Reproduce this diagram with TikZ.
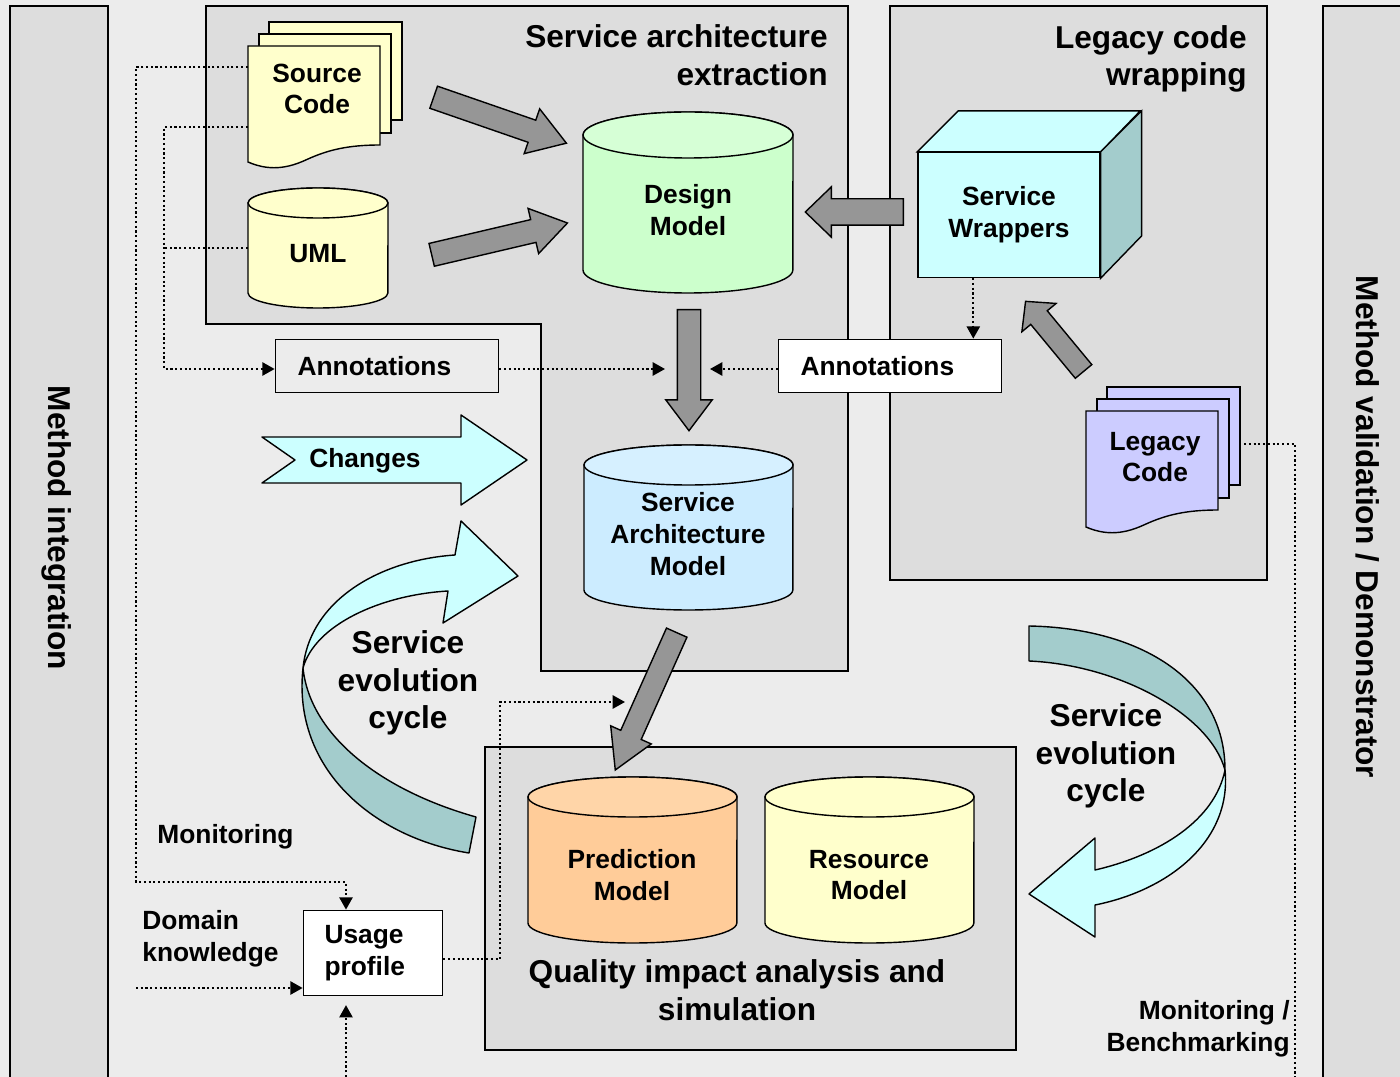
\documentclass[tikz,border=0pt]{standalone}
\usepackage{fontspec}
\setmainfont{Liberation Sans}
\usetikzlibrary{arrows.meta}
\usetikzlibrary{calc}
\usetikzlibrary{positioning}
\usetikzlibrary{shapes.arrows}

\definecolor{bgcol}{HTML}{ECECEC}
\definecolor{panelgray}{HTML}{DDDDDD}
\definecolor{arrowgray}{HTML}{969696}
\definecolor{docyellow}{HTML}{FFFFCC}
\definecolor{docpurple}{HTML}{CCCCFF}
\definecolor{cyanlight}{HTML}{CCFFFF}
\definecolor{tealdark}{HTML}{A3CCCC}
\definecolor{dmbody}{HTML}{CCFFCC}
\definecolor{dmtop}{HTML}{D6FFD6}
\definecolor{sambody}{HTML}{CCECFF}
\definecolor{samtop}{HTML}{D6F0FF}
\definecolor{pmbody}{HTML}{FFCC99}
\definecolor{pmtop}{HTML}{FFD5A8}

\newcommand{\lblfont}{\fontsize{15}{18}\selectfont\bfseries}
\newcommand{\ttlfont}{\fontsize{18}{21.5}\selectfont\bfseries}

\tikzset{
  panel/.style={draw, line width=1pt, fill=panelgray},
  docline/.style={draw, line width=0.8pt},
  dbtext/.style={font=\lblfont, align=center, inner sep=0pt},
  doctext/.style={font=\lblfont, align=center, minimum width=2.64cm, minimum height=1.72cm},
  annbox/.style={draw, line width=1pt, inner xsep=0pt, font=\lblfont, align=left},
  bigarrow/.style={single arrow, draw, fill=arrowgray, line width=0.8pt,
    inner sep=0.22cm, text height=0pt, text depth=0pt, text width=0pt,
    single arrow head extend=0.24cm, anchor=tail},
  ribbon/.style={draw, line width=0.8pt, line join=round},
  dotline/.style={line width=1.2pt, dash pattern=on 1.2pt off 1.5pt},
  dotarrow/.style={-{Triangle[length=7pt,width=7.5pt]}},
  lbl/.style={font=\lblfont, align=left, inner sep=0pt},
  ttl/.style={font=\ttlfont, inner sep=0pt}
}

% stack of three pages, front page top left at (#1,#2)
\newcommand{\docstack}[3]{%
  \draw[docline, fill=#3] (#1+21,#2-24) rectangle (#1+154,#2+74);
  \draw[docline, fill=#3] (#1+11,#2-12) rectangle (#1+143,#2+87);
  \draw[docline, fill=#3] (#1,#2) -- (#1+132,#2) -- (#1+132,#2+99)
    .. controls (#1+100,#2+99) and (#1+80,#2+104) .. (#1+60,#2+113)
    .. controls (#1+45,#2+120) and (#1+25,#2+127) .. (#1,#2+116) -- cycle;
}

% database drum: centre x, top y, width, height, end radius, body and top colour
\newcommand{\dbshape}[7]{%
  \draw[docline, fill=#6] (#1-#3/2,#2+#5) -- (#1-#3/2,#2+#4-#5)
    arc[start angle=180, end angle=360, x radius=#3*0.01cm, y radius=#5*0.02cm]
    -- (#1+#3/2,#2+#5)
    arc[start angle=0, end angle=180, x radius=#3*0.01cm, y radius=#5*0.02cm] -- cycle;
  \draw[docline, fill=#7] (#1,#2+#5) ellipse [x radius=#3*0.01cm, y radius=#5*0.02cm];
}

\begin{document}
\begin{tikzpicture}[x=0.02cm, y=-0.02cm]
  \fill[bgcol] (0,0) rectangle (1400,1077);
  \useasboundingbox (0,0) rectangle (1400,1077);

  % side bars and work package areas
  \draw[panel] (10,6) rectangle (108,1100);
  \draw[panel] (1323,6) rectangle (1420,1100);
  \draw[panel] (206,6) -- (848,6) -- (848,671) -- (541,671) -- (541,324) -- (206,324) -- cycle;
  \draw[panel] (890,6) rectangle (1267,580);
  \draw[panel] (485,747) rectangle (1016,1050);

  \node[ttl, rotate=-90] (mi) at (57,528) {Method integration};
  \node[ttl, rotate=-90] (mv) at (1368,527) {Method validation / Demonstrator};
  \node[ttl, anchor=east, align=right] (sae) at (828,55) {Service architecture\\extraction};
  \node[ttl, anchor=east, align=right] (lcw) at (1247,59) {Legacy code\\wrapping};
  \node[ttl, align=center] (qia) at (737,990) {Quality impact analysis and\\simulation};

  % models
  \dbshape{318}{188}{140}{120}{15}{docyellow}{docyellow}
  \node[dbtext, minimum width=2.8cm] (uml) at (318,254) {UML};
  \dbshape{688}{112}{210}{181}{23}{dmbody}{dmtop}
  \node[dbtext] (dm) at (688,210) {Design\\Model};
  \dbshape{688.5}{445}{209}{165}{20}{sambody}{samtop}
  \node[dbtext] (sam) at (688,534) {Service\\Architecture\\Model};
  \dbshape{632.5}{777}{209}{166}{20}{pmbody}{pmtop}
  \node[dbtext] (pm) at (632,875) {Prediction\\Model};
  \dbshape{869.5}{777}{209}{166}{20}{docyellow}{docyellow}
  \node[dbtext] (rm) at (869,875) {Resource\\Model};

  % documents
  \docstack{248}{46}{docyellow}
  \node[doctext] (src) at (317,89) {Source\\Code};
  \docstack{1086}{411}{docpurple}
  \node[doctext] (leg) at (1155,457) {Legacy\\Code};

  % wrapper box
  \node[draw, line width=0.8pt, fill=cyanlight, font=\lblfont, align=center,
    minimum width=3.64cm, minimum height=2.5cm] (sw) at (1009,215) {Service\\Wrappers};
  \draw[docline, fill=cyanlight] (sw.north west) -- ++(41,-41) -- ++(182,0) -- (sw.north east) -- cycle;
  \draw[docline, fill=tealdark] (sw.north east) -- ++(41,-41) -- ++(0,125) -- (sw.south east) -- cycle;

  % annotation and profile boxes
  \node[annbox, fill=bgcol, text width=3.58cm, minimum width=4.46cm, minimum height=1.06cm] (annL) at (387,366) {Annotations};
  \node[annbox, fill=white, text width=3.58cm, minimum width=4.46cm, minimum height=1.06cm] (annR) at (890,366) {Annotations};
  \node[annbox, fill=white, text width=1.94cm, minimum width=2.78cm, minimum height=1.7cm] (usage) at (373,953) {Usage\\profile};

  % transformation arrows
  \node[bigarrow, minimum height=2.81cm, rotate=-19.1, single arrow tip angle=66] (srcdm) at (433,97) {};
  \node[bigarrow, minimum height=2.79cm, rotate=13.2, single arrow tip angle=67, single arrow head extend=0.23cm] (umldm) at (431,255) {};
  \node[bigarrow, minimum height=1.96cm, rotate=180, single arrow tip angle=88, inner sep=0.25cm] (swdm) at (904,212) {};
  \node[bigarrow, minimum height=2.42cm, rotate=-90, single arrow tip angle=74, single arrow head extend=0.23cm] (dmsam) at (689,309) {};
  \node[bigarrow, minimum height=3.01cm, rotate=-114.1, single arrow tip angle=60, inner sep=0.21cm, single arrow head extend=0.22cm] (sampm) at (677,632) {};
  \node[bigarrow, minimum height=1.82cm, rotate=129.6, single arrow tip angle=93, inner sep=0.2cm, single arrow head extend=0.23cm] (legsw) at (1084,372) {};

  % changes arrow
  \draw[ribbon, fill=cyanlight] (262,437) -- (461,437) -- (461,415) -- (527,460) -- (461,505) -- (461,483) -- (262,483) -- (295,460) -- cycle;
  \node[lbl] (chg) at (365,461) {Changes};

  % evolution cycle, left
  \draw[ribbon, fill=tealdark] (476,817) .. controls (380,790) and (310,735) .. (303,668)
    .. controls (292,770) and (375,838) .. (469,853) -- cycle;
  \draw[ribbon, fill=cyanlight] (303,668) .. controls (310,600) and (380,560) .. (455,555)
    -- (461,521) -- (518,576) -- (443,623) -- (448,591)
    .. controls (380,595) and (315,625) .. (303,668) -- cycle;
  \node[ttl, align=center] (cycL) at (408,683) {Service\\evolution\\cycle};

  % evolution cycle, right
  \draw[ribbon, fill=tealdark] (1029,626) .. controls (1140,628) and (1225,680) .. (1225,770)
    .. controls (1210,715) and (1120,665) .. (1029,661) -- cycle;
  \draw[ribbon, fill=cyanlight] (1225,770) .. controls (1232,840) and (1170,890) .. (1095,905)
    -- (1095,937) -- (1029,894) -- (1095,838) -- (1095,870)
    .. controls (1160,855) and (1215,820) .. (1225,770) -- cycle;
  \node[ttl, align=center] (cycR) at (1106,756) {Service\\evolution\\cycle};

  % side labels
  \node[lbl, anchor=west] (mon) at (157,837) {Monitoring};
  \node[lbl, anchor=west] (dom) at (142,939) {Domain\\knowledge};
  \node[lbl, anchor=east, align=right] (bench) at (1290,1029) {Monitoring /\\Benchmarking};

  % information flow
  \coordinate (jM) at (136,67);
  \coordinate (jA) at (164,127);
  \coordinate (jU) at (346,882);
  \coordinate (dk) at (136,988);
  \coordinate (bot) at (346,1077);
  \coordinate (jQ) at (500,702);
  \coordinate (qa) at (625,702);
  \coordinate (jL) at (1295,444);
  \coordinate (swp) at ([xshift=1.12cm]sw.south west);

  \draw[dotline, dotarrow] ($(src.west)+(-3,-22)$) -- (jM) |- (jU) -- (jU |- usage.north);
  \draw[dotline, dotarrow] ($(src.west)+(-3,38)$) -- (jA) |- ($(annL.west)+(0,3)$);
  \draw[dotline] ($(uml.west)+(0,-6)$) -- ($(uml.west -| jA)+(0,-6)$);
  \draw[dotline, dotarrow] (dk) -- (dk -| usage.west);
  \draw[dotline, dotarrow, shorten >=5pt] (bot) -- (bot |- usage.south);
  \draw[dotline, dotarrow] ($(usage.east)+(0,6)$) -| (jQ) -- (qa);
  \draw[dotline, dotarrow] ($(annL.east)+(0,3)$) -- ($(annL.east -| dmsam.tail)+(-24,3)$);
  \draw[dotline, dotarrow] ($(annR.west)+(0,3)$) -- ($(annR.west -| dmsam.tail)+(21,3)$);
  \draw[dotline, dotarrow] (swp) -- (swp |- annR.north);
  \draw[dotline] ($(leg.east)+(18,-13)$) -- (jL) -- (jL |- bot);
\end{tikzpicture}
\end{document}
